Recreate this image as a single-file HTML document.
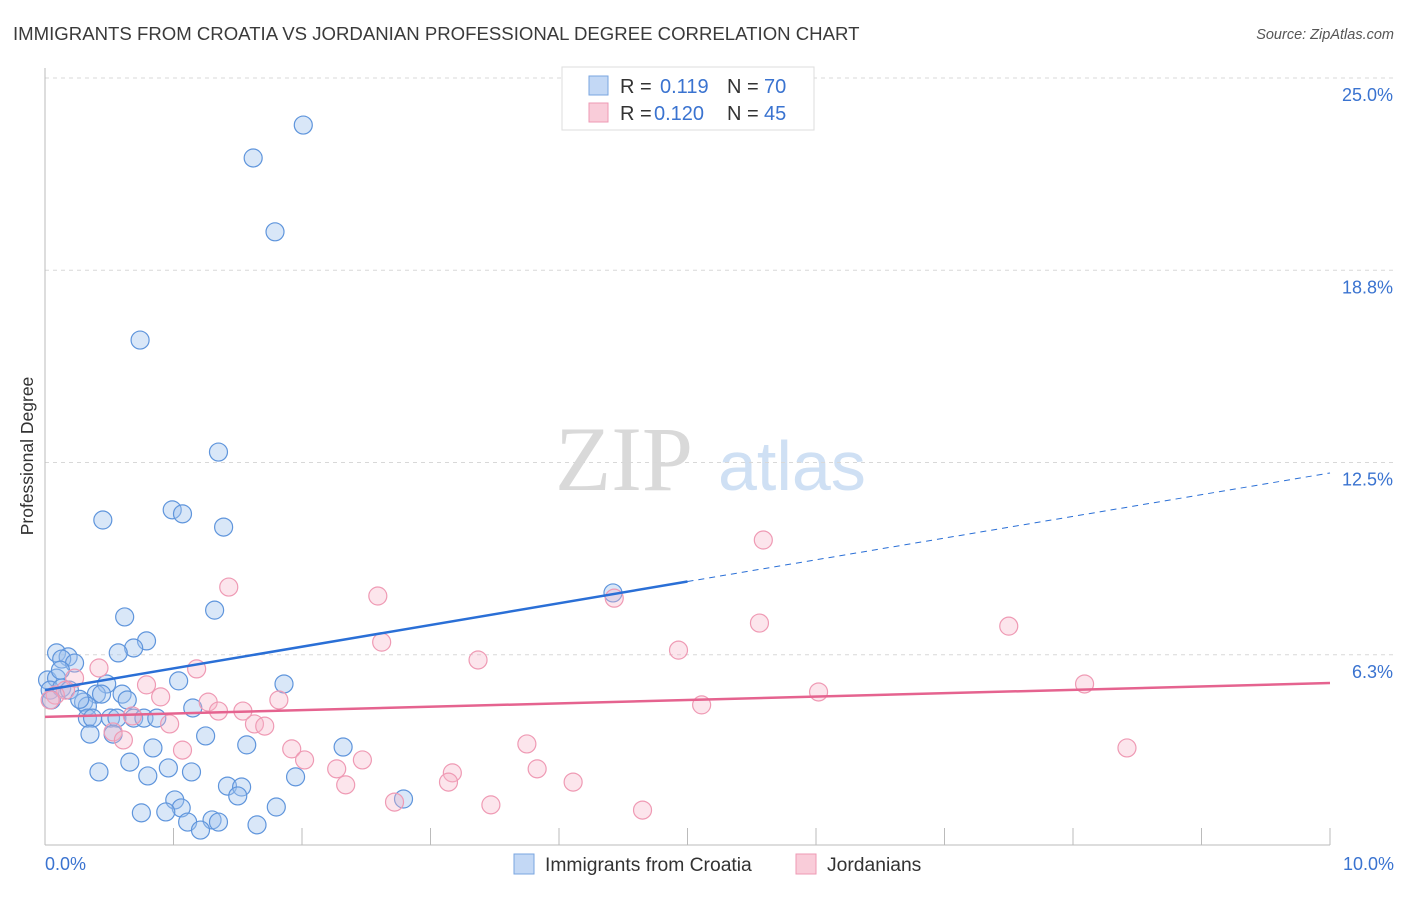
<!DOCTYPE html>
<html><head><meta charset="utf-8"><style>
body{margin:0;background:#fff;font-family:"Liberation Sans",sans-serif}
</style></head><body>
<svg width="1406" height="892" viewBox="0 0 1406 892" xmlns="http://www.w3.org/2000/svg" font-family="Liberation Sans, sans-serif">
<text x="13" y="40" font-size="18.6" fill="#3a3a3a">IMMIGRANTS FROM CROATIA VS JORDANIAN PROFESSIONAL DEGREE CORRELATION CHART</text>
<text x="1394" y="39" font-size="14.5" fill="#555" text-anchor="end" font-style="italic">Source: ZipAtlas.com</text>
<g>
<text x="555" y="490" font-size="92" fill="#d9d9d9" font-family="Liberation Serif, serif">ZIP</text>
<text x="718" y="490" font-size="70" fill="#cfe0f4">atlas</text>
</g>
<g id="grid"></g>
<g id="axes"></g>
<g id="marks"></g>
<text transform="translate(33,456) rotate(-90)" font-size="17.5" fill="#333" text-anchor="middle">Professional Degree</text>
<g>
<rect x="562" y="67" width="252" height="63" fill="#fff" stroke="#ddd"/>
<rect x="589" y="76" width="19" height="19" fill="#c3d8f5" stroke="#7aa6e0"/>
<text x="620" y="93" font-size="20" fill="#333">R =</text><text x="660" y="93" font-size="20" fill="#3a73d0">0.119</text>
<text x="727" y="93" font-size="20" fill="#333">N =</text><text x="764" y="93" font-size="20" fill="#3a73d0">70</text>
<rect x="589" y="103" width="19" height="19" fill="#f9ccd9" stroke="#ee9ab4"/>
<text x="620" y="120" font-size="20" fill="#333">R =</text><text x="654" y="120" font-size="20" fill="#3a73d0">0.120</text>
<text x="727" y="120" font-size="20" fill="#333">N =</text><text x="764" y="120" font-size="20" fill="#3a73d0">45</text>
</g>
<g>
<rect x="514" y="854" width="20" height="20" fill="#c3d8f5" stroke="#7aa6e0"/>
<text x="545" y="871" font-size="19.3" fill="#333">Immigrants from Croatia</text>
<rect x="796" y="854" width="20" height="20" fill="#f9ccd9" stroke="#ee9ab4"/>
<text x="827" y="871" font-size="19.3" fill="#333">Jordanians</text>
</g>
<script>
const xTicks=[0,1,2,3,4,5,6,7,8,9,10];
const yTicks=[6.25,12.5,18.75,25];
const yTickLabels=["6.3%","12.5%","18.8%","25.0%"];
const xEndLabels=["0.0%","10.0%"];
const croatiaX=[2.01,1.62,1.79,0.74,1.35,0.99,1.07,0.45,1.39,4.42,0.62,1.32,0.79,0.69,0.57,0.09,0.18,0.13,0.23,1.04,1.86,0.02,0.09,0.48,0.04,0.13,0.40,0.44,0.60,0.64,0.30,0.33,1.15,0.33,0.37,0.51,0.56,0.69,0.77,0.87,0.53,0.35,1.25,0.84,1.57,2.32,0.66,0.42,0.80,0.96,1.14,1.95,1.42,1.53,1.50,1.01,2.79,1.06,1.80,0.75,0.94,1.11,1.30,1.35,1.21,1.65,0.05,0.19,0.12,0.27];
const croatiaY=[23.47,22.40,20.0,16.48,12.84,10.96,10.83,10.63,10.40,8.26,7.48,7.70,6.70,6.47,6.31,6.31,6.18,6.11,5.98,5.40,5.30,5.43,5.49,5.30,5.10,5.17,4.97,4.97,4.97,4.78,4.71,4.58,4.52,4.19,4.19,4.19,4.19,4.19,4.19,4.19,3.67,3.67,3.61,3.22,3.32,3.25,2.76,2.44,2.31,2.57,2.44,2.28,1.98,1.95,1.66,1.53,1.56,1.27,1.30,1.11,1.14,0.81,0.88,0.81,0.55,0.72,4.78,5.10,5.75,4.80];
const jordanX=[5.59,1.43,2.59,4.43,5.56,7.50,2.62,4.93,3.37,0.42,1.18,0.23,0.79,8.09,6.02,0.16,0.90,1.27,1.82,0.08,5.11,1.54,1.35,0.68,0.97,1.63,1.71,0.53,0.61,3.75,8.42,1.07,1.92,2.02,2.47,2.27,3.17,3.83,3.14,2.34,4.11,2.72,3.47,4.65,0.04];
const jordanY=[9.98,8.45,8.16,8.09,7.28,7.18,6.66,6.40,6.08,5.82,5.79,5.49,5.27,5.30,5.04,5.10,4.88,4.71,4.78,4.94,4.62,4.42,4.42,4.26,4.00,4.00,3.93,3.74,3.48,3.35,3.22,3.15,3.19,2.83,2.83,2.54,2.41,2.54,2.11,2.02,2.11,1.46,1.37,1.20,4.78];
const croatiaTrend=[5.10,0.706];
const jordanTrend=[4.23,0.11];
const X0=45,X1=1330,Y0=847,Y25=78;
const xs=v=>X0+v/10*(X1-X0);
const ys=v=>Y0-v/25*(Y0-Y25);
const NS="http://www.w3.org/2000/svg";
function mk(parent,tag,attrs){const e=document.createElementNS(NS,tag);for(const k in attrs)e.setAttribute(k,attrs[k]);parent.appendChild(e);return e;}
const grid=document.getElementById('grid'),axes=document.getElementById('axes'),marks=document.getElementById('marks');
yTicks.forEach((t,i)=>{
 const l=mk(grid,'line',{x1:X0,x2:1393,y1:ys(t),y2:ys(t),stroke:'#d8d8d8','stroke-dasharray':'4,4'});
 
 
 const tx=mk(axes,'text',{x:1393,y:ys(t)+23,'font-size':18,fill:'#3a73d0','text-anchor':'end'});
 tx.textContent=yTickLabels[i];
 
 
});
const ax=mk(axes,'line',{x1:X0,x2:X0,y1:68,y2:845,stroke:'#bbb'});


const bx=mk(axes,'line',{x1:X0,x2:X1,y1:845,y2:845,stroke:'#bbb'});


xTicks.forEach(t=>{
 const l=mk(axes,'line',{x1:xs(t),x2:xs(t),y1:828,y2:845,stroke:'#bbb'});
 
 
});
[[0,'start',45],[10,'end',1394]].forEach((a,i)=>{
 const tx=mk(axes,'text',{x:a[2],y:870,'font-size':18,fill:'#3a73d0','text-anchor':a[1]});
 tx.textContent=xEndLabels[i];
 
 
});
croatiaX.forEach((x,i)=>{
 const c=mk(marks,'circle',{cx:xs(x),cy:ys(croatiaY[i]),r:9,fill:'rgba(160,195,238,0.4)',stroke:'#5f95dc','stroke-width':1.2});
 
 
});
jordanX.forEach((x,i)=>{
 const c=mk(marks,'circle',{cx:xs(x),cy:ys(jordanY[i]),r:9,fill:'rgba(246,180,200,0.35)',stroke:'#ef9ab4','stroke-width':1.2});
 
 
});
const cs=mk(marks,'line',{x1:xs(0),y1:ys(croatiaTrend[0]),x2:xs(5),y2:ys(croatiaTrend[0]+5*croatiaTrend[1]),stroke:'#2a6fd6','stroke-width':2.5});


const cd=mk(marks,'line',{x1:xs(5),y1:ys(croatiaTrend[0]+5*croatiaTrend[1]),x2:xs(10),y2:ys(croatiaTrend[0]+10*croatiaTrend[1]),stroke:'#2a6fd6','stroke-width':1,'stroke-dasharray':'6,5'});


const jt=mk(marks,'line',{x1:xs(0),y1:ys(jordanTrend[0]),x2:xs(10),y2:ys(jordanTrend[0]+10*jordanTrend[1]),stroke:'#e5638f','stroke-width':2.5});


</script>
</svg>
</body></html>
